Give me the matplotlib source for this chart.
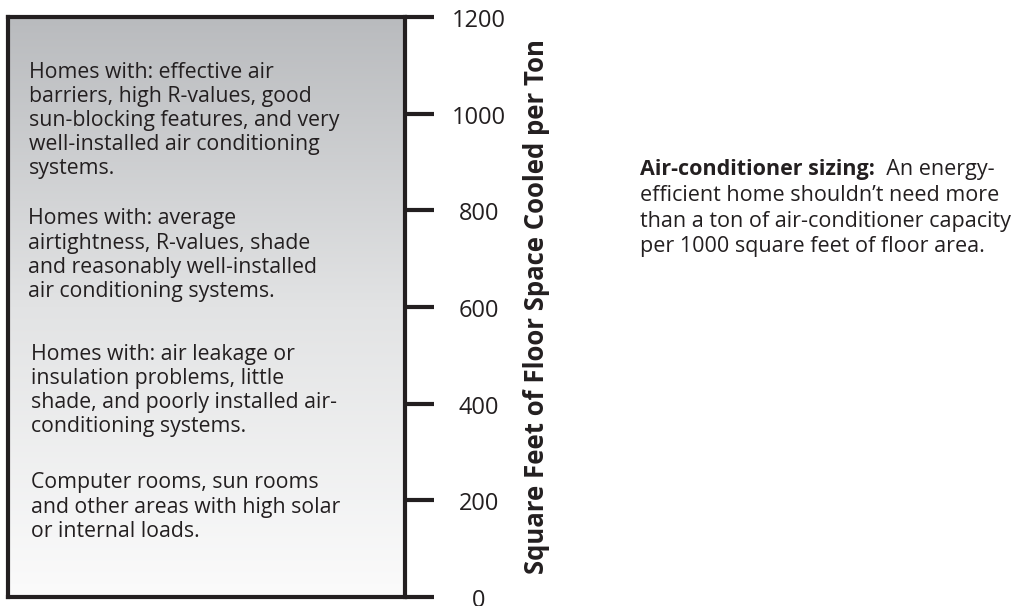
import numpy as np
import matplotlib
matplotlib.use("Agg")
import matplotlib.pyplot as plt
import matplotlib.transforms as mtransforms
from matplotlib.colors import LinearSegmentedColormap

plt.rcParams['font.family'] = ['Open Sans', 'DejaVu Sans']

# axis values
ticks = [0, 200, 400, 600, 800, 1000, 1200]
ymax = 1200

# descriptions inside the bar, with the square-feet-per-ton level they sit at
descriptions = [
    "Homes with: effective air\nbarriers, high R-values, good\nsun-blocking features, and very\nwell-installed air conditioning\nsystems.",
    "Homes with: average\nairtightness, R-values, shade\nand reasonably well-installed\nair conditioning systems.",
    "Homes with: air leakage or\ninsulation problems, little\nshade, and poorly installed air-\nconditioning systems.",
    "Computer rooms, sun rooms\nand other areas with high solar\nor internal loads.",
]
desc_y = [986, 707, 427, 186]
desc_x = [0.053, 0.050, 0.058, 0.058]

ylabel = "Square Feet of Floor Space Cooled per Ton"
note_bold = "Air-conditioner sizing:"
note_rest = "  An energy-"
note_lines = ["efficient home shouldn\u2019t need more",
              "than a ton of air-conditioner capacity",
              "per 1000 square feet of floor area."]

INK = "#231f20"
W, H = 1012, 606
fig = plt.figure(figsize=(W / 100, H / 100), dpi=100)
ax = fig.add_axes([8 / W, (H - 597) / H, (405 - 8) / W, (597 - 17) / H])

# gradient fill, dark at the top, near white at the bottom
cmap = LinearSegmentedColormap.from_list("fade", ["#fbfbfb", "#e2e3e4", "#b9bbbe"])
grad = np.linspace(0, 1, 256).reshape(-1, 1)
ax.imshow(grad, extent=[0, 1, 0, ymax], origin="lower", aspect="auto", cmap=cmap)
ax.set_xlim(0, 1)
ax.set_ylim(0, ymax)

for s in ax.spines.values():
    s.set_linewidth(3)
    s.set_color(INK)

ax.set_xticks([])
ax.yaxis.tick_right()
ax.set_yticks(ticks)
ax.tick_params(axis="y", right=True, left=False, length=21, width=3,
               color=INK, labelright=False)

# tick labels, centred a bit right of the ticks and nudged down
trans = mtransforms.blended_transform_factory(ax.transAxes, ax.transData)
nudge = mtransforms.ScaledTranslation(0, -4 / 100, fig.dpi_scale_trans)
for v in ticks:
    ax.text((479 - 8) / 397, v, str(v), transform=trans + nudge, fontsize=17,
            color=INK, ha="center", va="center", clip_on=False)

ax.yaxis.set_label_position("right")
ax.set_ylabel(ylabel, fontsize=18.5, fontweight="bold", color=INK,
              va="center", ha="center")
ax.yaxis.set_label_coords((537 - 8) / 397, (597 - 307) / 580)

for txt, y, x in zip(descriptions, desc_y, desc_x):
    ax.text(x, y, txt, fontsize=15.3, color=INK, va="center", ha="left",
            linespacing=1.2)

# side note
b = fig.text(640 / W, 1 - 170 / H, note_bold, fontsize=15.5, fontweight="bold",
             color=INK, va="center", ha="left")
ax.annotate(note_rest, xy=(1, 0.5), xycoords=b, va="center", ha="left",
            fontsize=15.5, color=INK)
for i, line in enumerate(note_lines):
    fig.text(640 / W, 1 - (170 + 25.5 * (i + 1)) / H, line, fontsize=15.5,
             color=INK, va="center", ha="left")

fig.savefig("out.png", dpi=100)
